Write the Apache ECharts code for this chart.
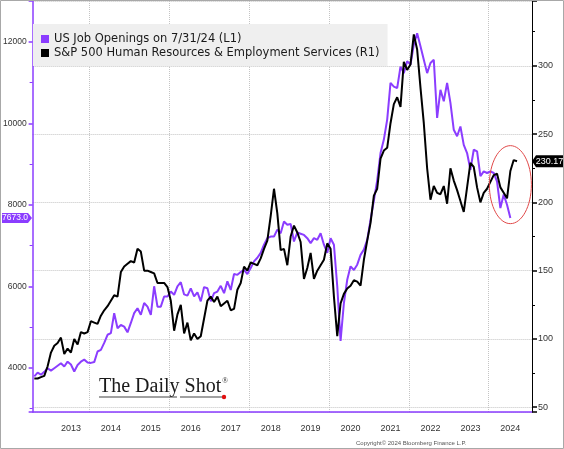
<!DOCTYPE html>
<html>
<head>
<meta charset="utf-8">
<script src="https://cdn.jsdelivr.net/npm/echarts/dist/echarts.min.js"></script>
<style>
  html, body { margin: 0; padding: 0; background: #fff; }
  #chart { width: 564px; height: 449px; }
</style>
</head>
<body>
<div id="chart"></div>
<script>
// monthly categories, Aug 2012 .. Jan 2025
const startYear = 2012, startMonth = 8, monthCount = 150;
const months = [];
for (let i = 0; i < monthCount; i++) {
  const m = startMonth - 1 + i;
  months.push((startYear + Math.floor(m / 12)) + '-' + String(m % 12 + 1).padStart(2, '0'));
}

const seriesNames = [
  'US Job Openings on 7/31/24 (L1)',
  'S&P 500 Human Resources & Employment Services (R1)'
];

// JOLTS job openings, thousands (left axis)
const jobOpenings = [
  3790, 3880, 3830, 3900, 3990, 3930, 3990, 4050, 4110, 4030, 4150, 4080,
  3910, 4070, 4150, 4200, 4130, 4120, 4140, 4400, 4440, 4610, 4810, 4850,
  5340, 4970, 5050, 5010, 4870, 5100, 5340, 5460, 5300, 5590, 5500, 5300,
  6000, 5500, 5500, 5750, 5750, 5870, 5790, 6000, 6100, 5800, 5770, 5950,
  5750, 5850, 5630, 5980, 5950, 5630, 5830, 5870, 6010, 5830, 6120, 5910,
  6300, 6280, 6350, 6400, 6300, 6450, 6610, 6700, 6820, 7020, 7180, 7220,
  7220, 7390, 7300, 7590, 7510, 7530, 7100, 7320, 7290, 7260, 7180, 7060,
  7180, 7140, 7300, 7020, 6820, 7180, 7020, 6000, 4660, 5590, 6160, 6490,
  6400, 6530, 6770, 6900, 7140, 7630, 8100, 8600, 9270, 9600, 10090, 10990,
  10900, 10860, 11390, 11230, 11520, 11440, 11930, 12210, 11890, 11560, 11230, 11480,
  11560, 10130, 10820, 10540, 10990, 10500, 9840, 9680, 9920, 9470, 9270, 8860,
  9350, 9310, 8700, 8820, 8780, 8820, 8780, 8570, 7920, 8250, 8000, 7673
];

// S&P 500 HR & Employment Services index (right axis)
const hrIndex = [
  71, 71, 72, 73, 80, 90, 95, 97, 101, 89, 93, 90,
  100, 96, 105, 104, 105, 113, 112, 111, 117, 121, 124, 128,
  132, 131, 149, 153, 155, 157, 156, 166, 164, 150, 150, 149,
  148, 141, 141, 141, 138, 128, 106, 118, 125, 104, 112, 99,
  104, 100, 102, 115, 128, 131, 127, 131, 124, 126, 128, 121,
  122, 136, 141, 153, 150, 156, 155, 154, 159, 166, 172, 190,
  210, 192, 165, 166, 154, 175, 183, 178, 171, 144, 152, 163,
  144, 150, 154, 158, 170, 166, 131, 102, 126, 133, 137, 139,
  143, 142, 139, 158, 172, 185, 205, 210, 232, 238, 240, 258,
  272, 277, 270, 303, 297, 301, 323, 312, 284, 258, 225, 202,
  212, 207, 206, 212, 199, 225, 216, 209, 201, 193, 211, 229,
  226, 211, 200, 207, 210, 215, 220, 221, 211, 207, 203, 223,
  231, 230.17
];

const PURPLE = '#8b3dff';
const BLACK = '#000000';
const GRID_LINE = '#c4c4c4';

const chart = echarts.init(document.getElementById('chart'));

const option = {
  animation: false,
  textStyle: { fontFamily: 'Liberation Sans' },
  grid: { left: 32, right: 32, top: 1, bottom: 37 },
  legend: {
    left: 33,
    top: 24,
    orient: 'vertical',
    backgroundColor: '#efefef',
    padding: [8, 8, 6, 8],
    itemGap: 0,
    itemWidth: 8,
    itemHeight: 8,
    icon: 'rect',
    textStyle: { fontFamily: 'DejaVu Sans', fontSize: 11.5, color: '#1a1a1a', lineHeight: 14 },
    data: seriesNames
  },
  xAxis: {
    type: 'category',
    data: months,
    boundaryGap: true,
    axisLine: { onZero: false, lineStyle: { color: PURPLE, width: 1.5 } },
    axisTick: {
      interval: (i, v) => v.endsWith('-01'),
      length: 21,
      lineStyle: { color: '#d2bcfb', width: 1 }
    },
    axisLabel: {
      interval: (i, v) => v.endsWith('-07'),
      formatter: v => v.slice(0, 4),
      margin: 12,
      fontSize: 9,
      color: '#333'
    },
    splitLine: {
      show: true,
      interval: (i, v) => v.endsWith('-01') && Number(v.slice(0, 4)) % 2 === 0,
      lineStyle: { type: 'dotted', color: GRID_LINE }
    }
  },
  yAxis: [
    {
      type: 'value',
      position: 'left',
      min: 2915,
      max: 13000,
      splitNumber: 5,
      axisLine: { show: true, lineStyle: { color: PURPLE, width: 1.5 } },
      axisTick: { show: true, length: 4, lineStyle: { color: PURPLE, width: 1.5 } },
      minorTick: { show: true, splitNumber: 2, length: 3, lineStyle: { color: PURPLE } },
      axisLabel: {
        showMinLabel: false, showMaxLabel: false, fontSize: 8.5, color: '#333', margin: 6,
        formatter: v => String(v)
      },
      splitLine: { show: false }
    },
    {
      type: 'value',
      position: 'right',
      min: 46.5,
      max: 347.5,
      splitNumber: 6,
      axisLine: { show: true, lineStyle: { color: BLACK, width: 1 } },
      axisTick: { show: true, length: 5, lineStyle: { color: BLACK, width: 1.5 } },
      minorTick: { show: true, splitNumber: 2, length: 3, lineStyle: { color: BLACK } },
      axisLabel: {
        showMinLabel: false, showMaxLabel: false, fontSize: 9, color: '#333', margin: 6,
        formatter: v => String(v)
      },
      splitLine: { show: true, lineStyle: { type: 'dotted', color: GRID_LINE } }
    }
  ],
  series: [
    {
      name: seriesNames[0],
      type: 'line',
      yAxisIndex: 0,
      data: jobOpenings,
      symbol: 'none',
      lineStyle: { color: PURPLE, width: 2 },
      itemStyle: { color: PURPLE }
    },
    {
      name: seriesNames[1],
      type: 'line',
      yAxisIndex: 1,
      data: hrIndex,
      symbol: 'none',
      lineStyle: { color: BLACK, width: 2 },
      itemStyle: { color: BLACK }
    }
  ]
};

chart.setOption(option);

// end-value tags, circle and watermark placed through the chart's own scales
const lastJob = jobOpenings[jobOpenings.length - 1];
const lastHr = hrIndex[hrIndex.length - 1];
const yJob = chart.convertToPixel({ yAxisIndex: 0 }, lastJob);
const yHr = chart.convertToPixel({ yAxisIndex: 1 }, lastHr);
const ring = chart.convertToPixel({ seriesIndex: 1 }, [months[143], 213]);

chart.setOption({
  graphic: [
    {
      type: 'polygon', silent: true, z: 50,
      shape: { points: [[2, yJob - 5], [28, yJob - 5], [32, yJob], [28, yJob + 5], [2, yJob + 5]] },
      style: { fill: PURPLE }
    },
    {
      type: 'text', silent: true, z: 51, x: 15, y: yJob,
      style: { text: lastJob.toFixed(1), fill: '#fff', font: '8.5px "Liberation Sans"',
               align: 'center', verticalAlign: 'middle', textAlign: 'center', textVerticalAlign: 'middle' }
    },
    {
      type: 'polygon', silent: true, z: 50,
      shape: { points: [[532, yHr], [536, yHr - 6], [563, yHr - 6], [563, yHr + 6], [536, yHr + 6]] },
      style: { fill: BLACK }
    },
    {
      type: 'text', silent: true, z: 51, x: 549.5, y: yHr,
      style: { text: lastHr.toFixed(2), fill: '#fff', font: '9px "Liberation Sans"',
               align: 'center', verticalAlign: 'middle', textAlign: 'center', textVerticalAlign: 'middle' }
    },
    {
      type: 'ellipse', silent: true, z: 40,
      shape: { cx: ring[0], cy: ring[1], rx: 21, ry: 39 },
      style: { fill: 'none', stroke: '#e04848', lineWidth: 1 }
    },
    {
      type: 'text', silent: true, z: 40, x: 99, y: 386.5,
      style: { text: 'The Daily Shot', fill: '#1a1a1a', font: '20px "Liberation Serif"',
               align: 'left', verticalAlign: 'middle', textAlign: 'left', textVerticalAlign: 'middle' }
    },
    {
      type: 'text', silent: true, z: 40, x: 222, y: 381,
      style: { text: '®', fill: '#333', font: '8px "Liberation Serif"',
               align: 'left', verticalAlign: 'middle', textAlign: 'left', textVerticalAlign: 'middle' }
    },
    {
      type: 'line', silent: true, z: 40,
      shape: { x1: 99, y1: 397, x2: 177, y2: 397 },
      style: { stroke: '#444', lineWidth: 1.2 }
    },
    {
      type: 'line', silent: true, z: 40,
      shape: { x1: 180, y1: 397, x2: 222, y2: 397 },
      style: { stroke: '#444', lineWidth: 1.2 }
    },
    {
      type: 'circle', silent: true, z: 41,
      shape: { cx: 224, cy: 397, r: 2.2 },
      style: { fill: '#e01010' }
    },
    {
      type: 'text', silent: true, z: 40, x: 356, y: 443,
      style: { text: 'Copyright\u00a9 2024 Bloomberg Finance L.P.', fill: '#555', font: '6px "Liberation Sans"',
               align: 'left', verticalAlign: 'middle', textAlign: 'left', textVerticalAlign: 'middle' }
    },
    {
      type: 'rect', silent: true, z: 100,
      shape: { x: 0.5, y: 0.5, width: 563, height: 448 },
      style: { fill: 'none', stroke: '#a8a8a8', lineWidth: 1 }
    }
  ]
});

window.addEventListener('resize', () => chart.resize());
</script>
</body>
</html>
